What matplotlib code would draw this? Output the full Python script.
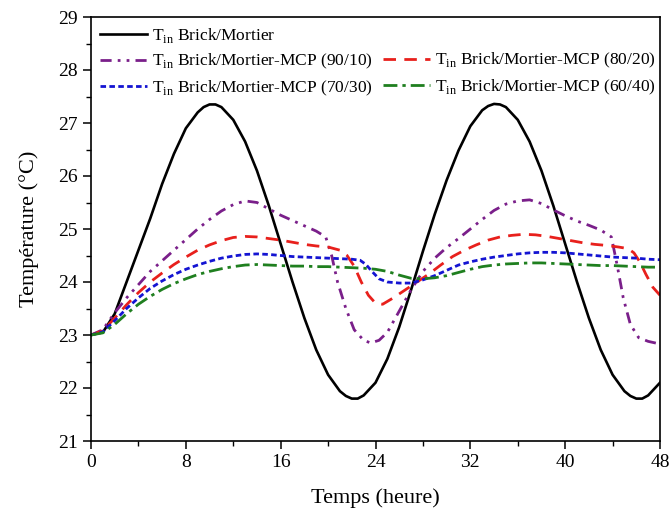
import matplotlib
matplotlib.use("Agg")
import matplotlib.pyplot as plt
from matplotlib.lines import Line2D
from matplotlib.ticker import MultipleLocator

plt.rcParams['font.family'] = ['Liberation Serif', 'DejaVu Serif']
plt.rcParams['mathtext.fontset'] = 'custom'
plt.rcParams['mathtext.rm'] = 'Liberation Serif'

# ---------------- data ----------------
t_brick = [0, 1, 2, 3, 4, 5, 6, 7, 8, 9, 9.5, 10, 10.5, 11, 12, 13, 14, 15, 16,
           17, 18, 19, 20, 21, 21.5, 22, 22.5, 23, 24, 25, 26, 27, 28, 29, 30,
           31, 32, 33, 33.5, 34, 34.5, 35, 36, 37, 38, 39, 40, 41, 42, 43, 44,
           45, 45.5, 46, 46.5, 47, 48]
T_brick = [23.0, 23.05, 23.4, 24.0, 24.6, 25.2, 25.85, 26.42, 26.9, 27.2, 27.3,
           27.35, 27.35, 27.3, 27.06, 26.65, 26.1, 25.44, 24.72, 24.0, 23.32,
           22.72, 22.25, 21.94, 21.85, 21.8, 21.8, 21.86, 22.1, 22.55, 23.15,
           23.85, 24.58, 25.28, 25.92, 26.48, 26.94, 27.24, 27.32, 27.36, 27.35,
           27.3, 27.06, 26.65, 26.1, 25.44, 24.72, 24.0, 23.32, 22.72, 22.25,
           21.94, 21.85, 21.8, 21.8, 21.86, 22.1]

t_90 = [0, 1, 2, 3, 4, 5, 6, 7, 8, 9, 10, 11, 12, 13, 14, 15, 16, 17, 18, 19,
        19.8, 20.3, 20.8, 21.5, 22.2, 23, 23.6, 24.3, 25, 26, 27, 28, 29, 30,
        31, 32, 33, 34, 35, 36, 37, 38, 39, 40, 41, 42, 43, 43.9, 44.4, 44.9,
        45.5, 46.2, 47, 48]
T_90 = [23.0, 23.1, 23.42, 23.7, 23.95, 24.2, 24.4, 24.6, 24.8, 25.0,
        25.18, 25.34, 25.46, 25.53, 25.5, 25.38, 25.26, 25.16, 25.06, 24.96,
        24.85, 24.5, 24.0, 23.5, 23.1, 22.9, 22.85, 22.9, 23.05, 23.45, 23.85,
        24.2, 24.45, 24.65, 24.82, 25.0, 25.18, 25.35, 25.47, 25.53, 25.55,
        25.48, 25.36, 25.25, 25.15, 25.07, 24.98, 24.85, 24.3, 23.7, 23.2,
        22.95, 22.88, 22.83]

t_80 = [0, 1, 2, 3, 4, 5, 6, 7, 8, 9, 10, 11, 12, 13, 14, 15, 16, 17, 18, 19,
        20, 21, 21.6, 22.2, 22.8, 23.4, 24, 24.6, 25.5, 26.5, 27.5, 28.5, 29.5,
        30.5, 31.5, 32.5, 33.5, 34.5, 35.5, 36.5, 37.5, 38.5, 39.5, 40.5, 41.5,
        42.5, 43.5, 44.5, 45.3, 45.8, 46.3, 46.8, 47.4, 48]
T_80 = [23.0, 23.08, 23.32, 23.57, 23.8, 24.0, 24.17, 24.33, 24.47, 24.6,
        24.7, 24.78, 24.84, 24.86, 24.85, 24.82, 24.79, 24.75, 24.71, 24.68,
        24.66, 24.6, 24.5, 24.3, 24.0, 23.75, 23.6, 23.58, 23.7, 23.85, 24.0,
        24.15, 24.32, 24.48, 24.6, 24.7, 24.79, 24.85, 24.88, 24.9, 24.89,
        24.86, 24.82, 24.78, 24.74, 24.71, 24.69, 24.66, 24.63, 24.55, 24.38,
        24.15, 23.9, 23.75]

t_70 = [0, 1, 2, 3, 4, 5, 6, 7, 8, 9, 10, 11, 12, 13, 14, 15, 16, 17, 18, 19,
        20, 21, 22, 22.7, 23.2, 23.7, 24.3, 25, 26, 27, 28, 29, 30, 31, 32, 33,
        34, 35, 36, 37, 38, 39, 40, 41, 42, 43, 44, 45, 46, 47, 48]
T_70 = [23.0, 23.06, 23.27, 23.5, 23.7, 23.88, 24.02, 24.14, 24.24, 24.32,
        24.39, 24.45, 24.49, 24.52, 24.53, 24.52, 24.5, 24.48, 24.47, 24.46,
        24.45, 24.44, 24.43, 24.41, 24.33, 24.2, 24.06, 24.0, 23.98, 23.98,
        24.04, 24.12, 24.22, 24.32, 24.38, 24.43, 24.47, 24.5, 24.53, 24.55,
        24.56, 24.56, 24.55, 24.53, 24.51, 24.49, 24.47, 24.46, 24.45, 24.43,
        24.42]

t_60 = list(range(0, 49))
T_60 = [23.0, 23.04, 23.2, 23.4, 23.58, 23.73, 23.86, 23.97, 24.06, 24.14,
        24.2, 24.25, 24.29, 24.32, 24.33, 24.32, 24.31, 24.3, 24.3, 24.29,
        24.29, 24.28, 24.27, 24.26, 24.24, 24.2, 24.13, 24.07, 24.06, 24.08,
        24.12, 24.18, 24.24, 24.29, 24.32, 24.34, 24.35, 24.36, 24.36, 24.35,
        24.34, 24.33, 24.32, 24.31, 24.31, 24.3, 24.29, 24.28, 24.28]

labels = [r'T$_{\mathregular{in}}$ Brick/Mortier',
          r'T$_{\mathregular{in}}$ Brick/Mortier-MCP (90/10)',
          r'T$_{\mathregular{in}}$ Brick/Mortier-MCP (80/20)',
          r'T$_{\mathregular{in}}$ Brick/Mortier-MCP (70/30)',
          r'T$_{\mathregular{in}}$ Brick/Mortier-MCP (60/40)']
x_ticks = [0, 8, 16, 24, 32, 40, 48]
y_ticks = [21, 22, 23, 24, 25, 26, 27, 28, 29]

# ---------------- plot ----------------
fig = plt.figure(figsize=(6.72, 5.17), dpi=100)
ax = fig.add_axes([91/672, 1-441/517, (660-91)/672, (441-17)/517])

l0, = ax.plot(t_brick, T_brick, color='black', lw=1.9, label=labels[0])
l1, = ax.plot(t_90, T_90, color='#7a1f8a', lw=2.0,
              linestyle=(0, (4, 2.2, 1, 2.2, 1, 2.2)), label=labels[1])
l2, = ax.plot(t_80, T_80, color='#e8201c', lw=2.0,
              linestyle=(0, (4.5, 3)), label=labels[2])
l3, = ax.plot(t_70, T_70, color='#1414d2', lw=2.0,
              linestyle=(0, (2, 1.2)), label=labels[3])
l4, = ax.plot(t_60, T_60, color='#1f7f1f', lw=2.0,
              linestyle=(0, (5, 1.8, 1.2, 1.8)), label=labels[4])

ax.set_xlim(0, 48)
ax.set_ylim(21, 29)
ax.set_xticks(x_ticks)
ax.set_yticks(y_ticks)
ax.xaxis.set_minor_locator(MultipleLocator(4))
ax.yaxis.set_minor_locator(MultipleLocator(0.5))
ax.tick_params(which='major', direction='out', length=6, width=1.1,
               labelsize=14, top=False, right=False)
ax.tick_params(which='minor', direction='out', length=3.5, width=1.0,
               top=False, right=False)
for s in ax.spines.values():
    s.set_linewidth(1.2)

ax.set_xlabel('Temps (heure)', fontsize=16, labelpad=12)
ax.set_ylabel('Température (°C)', fontsize=16, labelpad=14)

blank = Line2D([], [], linestyle='none', marker=None)
handles = [l0, l1, l3, blank, l2, l4]
labs = [labels[0], labels[1], labels[3], '', labels[2], labels[4]]
leg = ax.legend(handles, labs, loc='upper left', bbox_to_anchor=(0, 1),
                ncol=2, borderaxespad=0, fontsize=12.5,
                frameon=False, handlelength=2.7,
                handletextpad=0.3, columnspacing=0.6, labelspacing=0.42,
                borderpad=0.5)

fig.savefig('out.png', dpi=100)
